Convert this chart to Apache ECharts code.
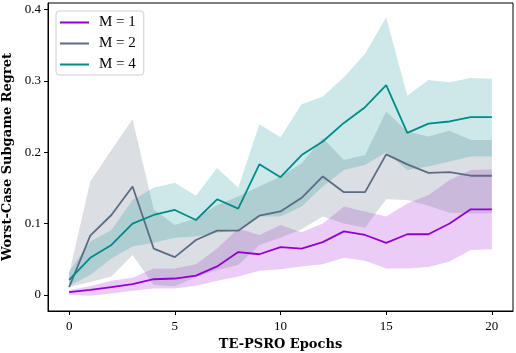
<!DOCTYPE html>
<html>
<head>
<meta charset="utf-8">
<script src="https://cdn.jsdelivr.net/npm/echarts@6/dist/echarts.min.js"></script>
<style>
  html, body { margin: 0; padding: 0; background: #fff; }
  #chart { width: 516px; height: 353px; }
</style>
</head>
<body>
<div id="chart"></div>
<script>
// epochs on the x axis
const epochs = [0, 1, 2, 3, 4, 5, 6, 7, 8, 9, 10, 11, 12, 13, 14, 15, 16, 17, 18, 19, 20];

// M = 1
const m1Mean  = [0.004, 0.007, 0.011, 0.015, 0.022, 0.023, 0.027, 0.040, 0.060, 0.057, 0.067, 0.065, 0.074, 0.089, 0.084, 0.073, 0.085, 0.085, 0.100, 0.120, 0.120];
const m1Lower = [0.000, -0.001, 0.002, 0.006, 0.009, 0.009, 0.013, 0.020, 0.026, 0.034, 0.036, 0.040, 0.043, 0.052, 0.048, 0.037, 0.037, 0.039, 0.047, 0.063, 0.064];
const m1Upper = [0.007, 0.012, 0.020, 0.024, 0.037, 0.037, 0.043, 0.065, 0.093, 0.084, 0.098, 0.088, 0.100, 0.124, 0.117, 0.110, 0.128, 0.140, 0.161, 0.175, 0.176];

// M = 2
const m2Mean  = [0.011, 0.083, 0.112, 0.152, 0.065, 0.053, 0.077, 0.090, 0.090, 0.111, 0.117, 0.136, 0.166, 0.144, 0.144, 0.197, 0.183, 0.171, 0.172, 0.167, 0.167];
const m2Lower = [0.011, 0.018, 0.026, 0.056, 0.014, 0.012, 0.025, 0.035, 0.042, 0.070, 0.080, 0.092, 0.110, 0.100, 0.094, 0.134, 0.133, 0.125, 0.115, 0.114, 0.114];
const m2Upper = [0.030, 0.159, 0.203, 0.246, 0.120, 0.098, 0.107, 0.126, 0.138, 0.152, 0.166, 0.184, 0.220, 0.189, 0.196, 0.257, 0.229, 0.222, 0.230, 0.217, 0.217];

// M = 4
const m4Mean  = [0.021, 0.052, 0.070, 0.100, 0.112, 0.119, 0.105, 0.134, 0.121, 0.183, 0.165, 0.196, 0.215, 0.241, 0.263, 0.294, 0.227, 0.240, 0.243, 0.249, 0.249];
const m4Lower = [0.013, 0.028, 0.051, 0.068, 0.073, 0.080, 0.082, 0.087, 0.091, 0.110, 0.110, 0.124, 0.152, 0.175, 0.182, 0.200, 0.175, 0.180, 0.187, 0.194, 0.194];
const m4Upper = [0.033, 0.075, 0.091, 0.133, 0.150, 0.157, 0.139, 0.178, 0.150, 0.239, 0.221, 0.267, 0.278, 0.305, 0.338, 0.389, 0.279, 0.301, 0.298, 0.304, 0.303];

const xTicks = [0, 5, 10, 15, 20];
const yTicks = [0, 0.1, 0.2, 0.3, 0.4];

const FONT = 'Liberation Serif';
const TITLE_FONT = 'DejaVu Serif';

const groups = [
  { name: 'M = 1', color: '#9400D3', band: 'rgba(148,0,211,0.2)', mean: m1Mean, lower: m1Lower, upper: m1Upper },
  { name: 'M = 2', color: '#5d6b85', band: 'rgba(112,128,144,0.25)', mean: m2Mean, lower: m2Lower, upper: m2Upper },
  { name: 'M = 4', color: '#008B8B', band: 'rgba(0,139,139,0.2)', mean: m4Mean, lower: m4Lower, upper: m4Upper }
];

const pairs = (ys) => epochs.map((x, i) => [x, ys[i]]);

const series = [];
// shaded bands: one polygon each, upper edge then lower edge back
groups.forEach((g) => {
  series.push({
    type: 'custom', silent: true, clip: true, z: 1,
    data: [[0, 0]],
    renderItem: (params, api) => {
      const top = epochs.map((x, i) => api.coord([x, g.upper[i]]));
      const bot = epochs.map((x, i) => api.coord([x, g.lower[i]])).reverse();
      return { type: 'polygon', shape: { points: top.concat(bot) }, style: { fill: g.band } };
    }
  });
});
groups.forEach((g) => {
  series.push({
    name: g.name, type: 'line', data: pairs(g.mean), symbol: 'none',
    itemStyle: { color: g.color },
    lineStyle: { color: g.color, width: 1.8 }, z: 5
  });
});

const chart = echarts.init(document.getElementById('chart'));
chart.setOption({
  animation: false,
  textStyle: { fontFamily: FONT },
  grid: {
    left: 48, right: 3, top: 3, bottom: 42, containLabel: false, outerBoundsMode: 'none',
    show: true, borderColor: '#000', borderWidth: 1, backgroundColor: 'transparent'
  },
  legend: {
    data: groups.map(g => g.name),
    icon: 'rect',
    orient: 'vertical', left: 56, top: 11,
    itemWidth: 29, itemHeight: 2, itemGap: 6,
    padding: [4, 8, 3, 4],
    backgroundColor: '#fff', borderColor: '#d0d0d0', borderWidth: 1, borderRadius: 3,
    textStyle: { fontFamily: FONT, fontSize: 15, lineHeight: 14, color: '#000', padding: [0, 0, 0, 5] }
  },
  xAxis: {
    type: 'value', min: -1, max: 21,
    name: 'TE-PSRO Epochs', nameLocation: 'middle', nameGap: 24,
    nameTextStyle: { fontFamily: TITLE_FONT, fontSize: 13, fontWeight: 'bold', color: '#000' },
    axisLine: { show: true, onZero: false, lineStyle: { color: '#000', width: 1 } },
    axisTick: { show: true, inside: false, length: 4, customValues: xTicks, lineStyle: { color: '#000' } },
    axisLabel: { customValues: xTicks, fontFamily: FONT, fontSize: 13, color: '#000', margin: 9 },
    splitLine: { show: false }
  },
  yAxis: {
    type: 'value', min: -0.0225, max: 0.409,
    name: 'Worst-Case Subgame Regret', nameLocation: 'middle', nameGap: 34,
    nameTextStyle: { fontFamily: TITLE_FONT, fontSize: 13, fontWeight: 'bold', color: '#000' },
    axisLine: { show: true, onZero: false, lineStyle: { color: '#000', width: 1 } },
    axisTick: { show: true, inside: false, length: 4, customValues: yTicks, lineStyle: { color: '#000' } },
    axisLabel: { customValues: yTicks, fontFamily: FONT, fontSize: 13, color: '#000', margin: 7,
      formatter: v => (v === 0 ? '0' : String(+v.toFixed(1))) },
    splitLine: { show: false }
  },
  series: series
});
</script>
</body>
</html>
